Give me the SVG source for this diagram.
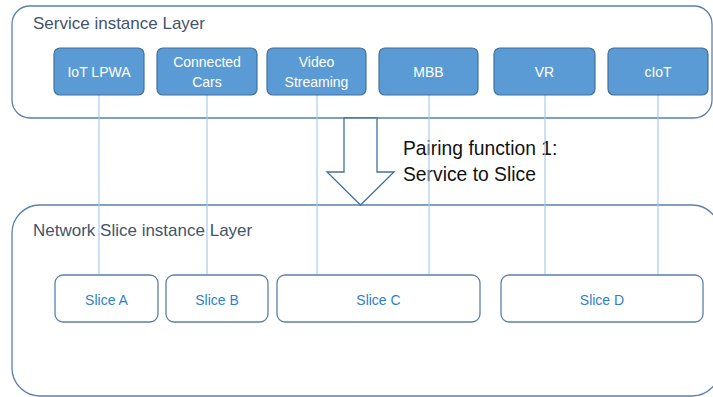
<svg xmlns="http://www.w3.org/2000/svg" width="713" height="397" viewBox="0 0 713 397">
<style>
.layer{fill:#fff;stroke:#5b80aa;stroke-width:1.3}
.svc rect{fill:#5b9bd5;stroke:#41719c;stroke-width:1.2}
.svc text{fill:#fff;font-family:"Liberation Sans",Arial,sans-serif;font-size:14px;text-anchor:middle}
.slice rect{fill:#fff;stroke:#5b80aa;stroke-width:1.3}
.slice text{fill:#2e7fcb;font-family:"Liberation Sans",Arial,sans-serif;font-size:14px;text-anchor:middle}
.ltitle{fill:#44546a;font-family:"Liberation Sans",Arial,sans-serif;font-size:17px}
.lbl{fill:#111;font-family:"Liberation Sans",Arial,sans-serif;font-size:19.3px}
.conn line{stroke:#a9cbec;stroke-width:1.2}
</style>
<g id="service-layer">
<rect class="layer" x="12" y="6" width="700" height="112" rx="18"/>
<text class="ltitle" x="33" y="29">Service instance Layer</text>
</g>
<g id="slice-layer">
<rect class="layer" x="12" y="205" width="708" height="191" rx="28"/>
<text class="ltitle" x="33" y="236">Network Slice instance Layer</text>
</g>
<g id="pairing-arrow">
<polygon points="344,118 377,118 377,172 394,172 360.5,205 327,172 344,172" fill="#fff" stroke="#41719c" stroke-width="1.3"/>
<text class="lbl" x="403" y="155">Pairing function 1:</text>
<text class="lbl" x="403" y="181">Service to Slice</text>
</g>
<g id="connectors" class="conn">
<line x1="99" y1="95" x2="99" y2="275"/>
<line x1="207" y1="95" x2="207" y2="275"/>
<line x1="317" y1="95" x2="317" y2="275"/>
<line x1="429" y1="95" x2="429" y2="275"/>
<line x1="545" y1="95" x2="545" y2="275"/>
<line x1="658" y1="95" x2="658" y2="275"/>
</g>
<g id="iot-lpwa" class="svc"><rect x="54" y="48" width="90" height="47" rx="6"/><text x="99" y="77">IoT LPWA</text></g>
<g id="connected-cars" class="svc"><rect x="157" y="48" width="100" height="47" rx="6"/><text x="207" y="67">Connected</text><text x="207" y="87">Cars</text></g>
<g id="video-streaming" class="svc"><rect x="267" y="48" width="99" height="47" rx="6"/><text x="316.5" y="67">Video</text><text x="316.5" y="87">Streaming</text></g>
<g id="mbb" class="svc"><rect x="379" y="48" width="99" height="47" rx="6"/><text x="428.5" y="77">MBB</text></g>
<g id="vr" class="svc"><rect x="494" y="48" width="101" height="47" rx="6"/><text x="544.5" y="77">VR</text></g>
<g id="ciot" class="svc"><rect x="608" y="48" width="100" height="47" rx="6"/><text x="658" y="77">cIoT</text></g>
<g id="slice-a" class="slice"><rect x="55" y="275" width="103" height="47" rx="8"/><text x="106.5" y="305">Slice A</text></g>
<g id="slice-b" class="slice"><rect x="166" y="275" width="102" height="47" rx="8"/><text x="217" y="305">Slice B</text></g>
<g id="slice-c" class="slice"><rect x="277" y="275" width="203" height="47" rx="8"/><text x="378.5" y="305">Slice C</text></g>
<g id="slice-d" class="slice"><rect x="501" y="275" width="202" height="47" rx="8"/><text x="602" y="305">Slice D</text></g>
</svg>
